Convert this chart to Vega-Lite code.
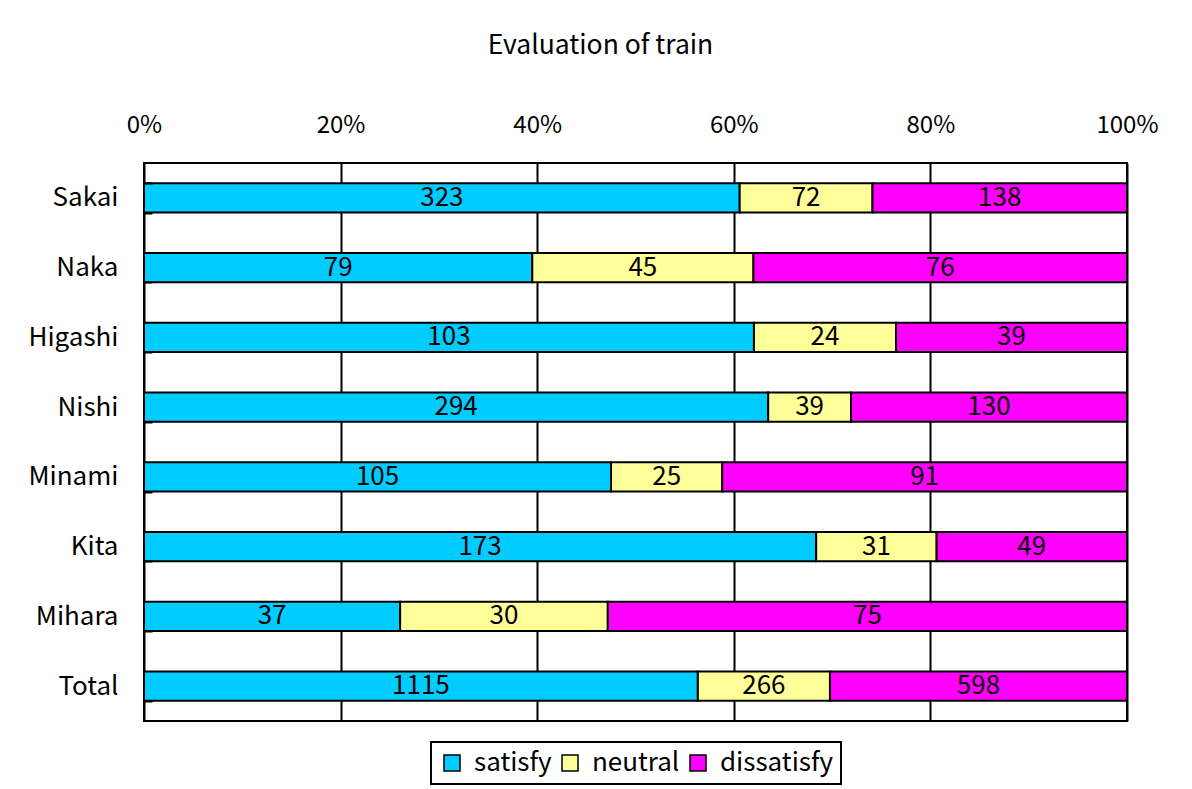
{
  "$schema": "https://vega.github.io/schema/vega-lite/v6.json",
  "width": 983,
  "height": 558,
  "autosize": {"type": "none"},
  "padding": {"left": 144, "top": 163, "right": 65, "bottom": 68},
  "background": "white",
  "title": {"text": "Evaluation of train", "fontSize": 26.5, "font": "Noto Sans CJK JP", "fontWeight": "normal", "color": "black", "anchor": "middle", "dx": -35, "offset": 54},
  "data": {"values": [
    {"area": "Sakai", "rating": "satisfy", "count": 323},
    {"area": "Sakai", "rating": "neutral", "count": 72},
    {"area": "Sakai", "rating": "dissatisfy", "count": 138},
    {"area": "Naka", "rating": "satisfy", "count": 79},
    {"area": "Naka", "rating": "neutral", "count": 45},
    {"area": "Naka", "rating": "dissatisfy", "count": 76},
    {"area": "Higashi", "rating": "satisfy", "count": 103},
    {"area": "Higashi", "rating": "neutral", "count": 24},
    {"area": "Higashi", "rating": "dissatisfy", "count": 39},
    {"area": "Nishi", "rating": "satisfy", "count": 294},
    {"area": "Nishi", "rating": "neutral", "count": 39},
    {"area": "Nishi", "rating": "dissatisfy", "count": 130},
    {"area": "Minami", "rating": "satisfy", "count": 105},
    {"area": "Minami", "rating": "neutral", "count": 25},
    {"area": "Minami", "rating": "dissatisfy", "count": 91},
    {"area": "Kita", "rating": "satisfy", "count": 173},
    {"area": "Kita", "rating": "neutral", "count": 31},
    {"area": "Kita", "rating": "dissatisfy", "count": 49},
    {"area": "Mihara", "rating": "satisfy", "count": 37},
    {"area": "Mihara", "rating": "neutral", "count": 30},
    {"area": "Mihara", "rating": "dissatisfy", "count": 75},
    {"area": "Total", "rating": "satisfy", "count": 1115},
    {"area": "Total", "rating": "neutral", "count": 266},
    {"area": "Total", "rating": "dissatisfy", "count": 598}
  ]},
  "layer": [
    {
      "mark": {"type": "bar", "stroke": "black", "strokeWidth": 2},
      "encoding": {
        "y": {
          "field": "area", "type": "nominal",
          "sort": ["Sakai", "Naka", "Higashi", "Nishi", "Minami", "Kita", "Mihara", "Total"],
          "scale": {"paddingInner": 0.58, "paddingOuter": 0.29},
          "axis": {"title": null, "labelFontSize": 26, "labelFont": "Noto Sans CJK JP", "labelColor": "black", "ticks": true, "tickBand": "extent", "tickSize": 8, "offset": -8, "tickColor": "black", "tickWidth": 2, "tickOpacity": 1, "domain": false, "labelPadding": 26, "zindex": 2}
        },
        "x": {"field": "count", "type": "quantitative", "stack": "normalize", "scale": {"domain": [0, 1]},
          "axis": {"orient": "top", "title": null, "values": [0, 0.2, 0.4, 0.6, 0.8, 1], "format": ".0%", "ticks": false, "domain": false, "labelPadding": 26, "labelFlush": false, "labelFontSize": 24, "labelFont": "Noto Sans CJK JP", "labelColor": "black", "grid": true, "gridColor": "black", "gridWidth": 2, "gridOpacity": 1}},
        "color": {"field": "rating", "type": "nominal",
          "scale": {"domain": ["satisfy", "neutral", "dissatisfy"], "range": ["#00CCFF", "#FFFF99", "#FF00FF"]},
          "legend": {"orient": "bottom", "direction": "horizontal", "title": null, "labelFontSize": 26, "labelFont": "Noto Sans CJK JP", "labelColor": "black", "symbolType": "square", "symbolSize": 256, "symbolStrokeColor": "black", "symbolStrokeWidth": 1.5, "symbolOpacity": 1, "strokeColor": "black", "padding": 8, "offset": 21, "columnPadding": 5, "labelOffset": 9,
            "encode": {"legend": {"update": {"strokeWidth": {"value": 2}}}}}},
        "order": {"field": "rating", "sort": "descending"}
      }
    },
    {
      "mark": {"type": "text", "fontSize": 26, "font": "Noto Sans CJK JP", "color": "black"},
      "encoding": {
        "y": {"field": "area", "type": "nominal", "sort": ["Sakai", "Naka", "Higashi", "Nishi", "Minami", "Kita", "Mihara", "Total"]},
        "x": {"field": "count", "type": "quantitative", "stack": "normalize", "bandPosition": 0.5},
        "detail": {"field": "rating"},
        "text": {"field": "count", "type": "quantitative"},
        "order": {"field": "rating", "sort": "descending"}
      }
    }
  ],
  "config": {
    "view": {"stroke": "black", "strokeWidth": 2},
    "legend": {"layout": {"bottom": {"anchor": "middle"}}}
  }
}
